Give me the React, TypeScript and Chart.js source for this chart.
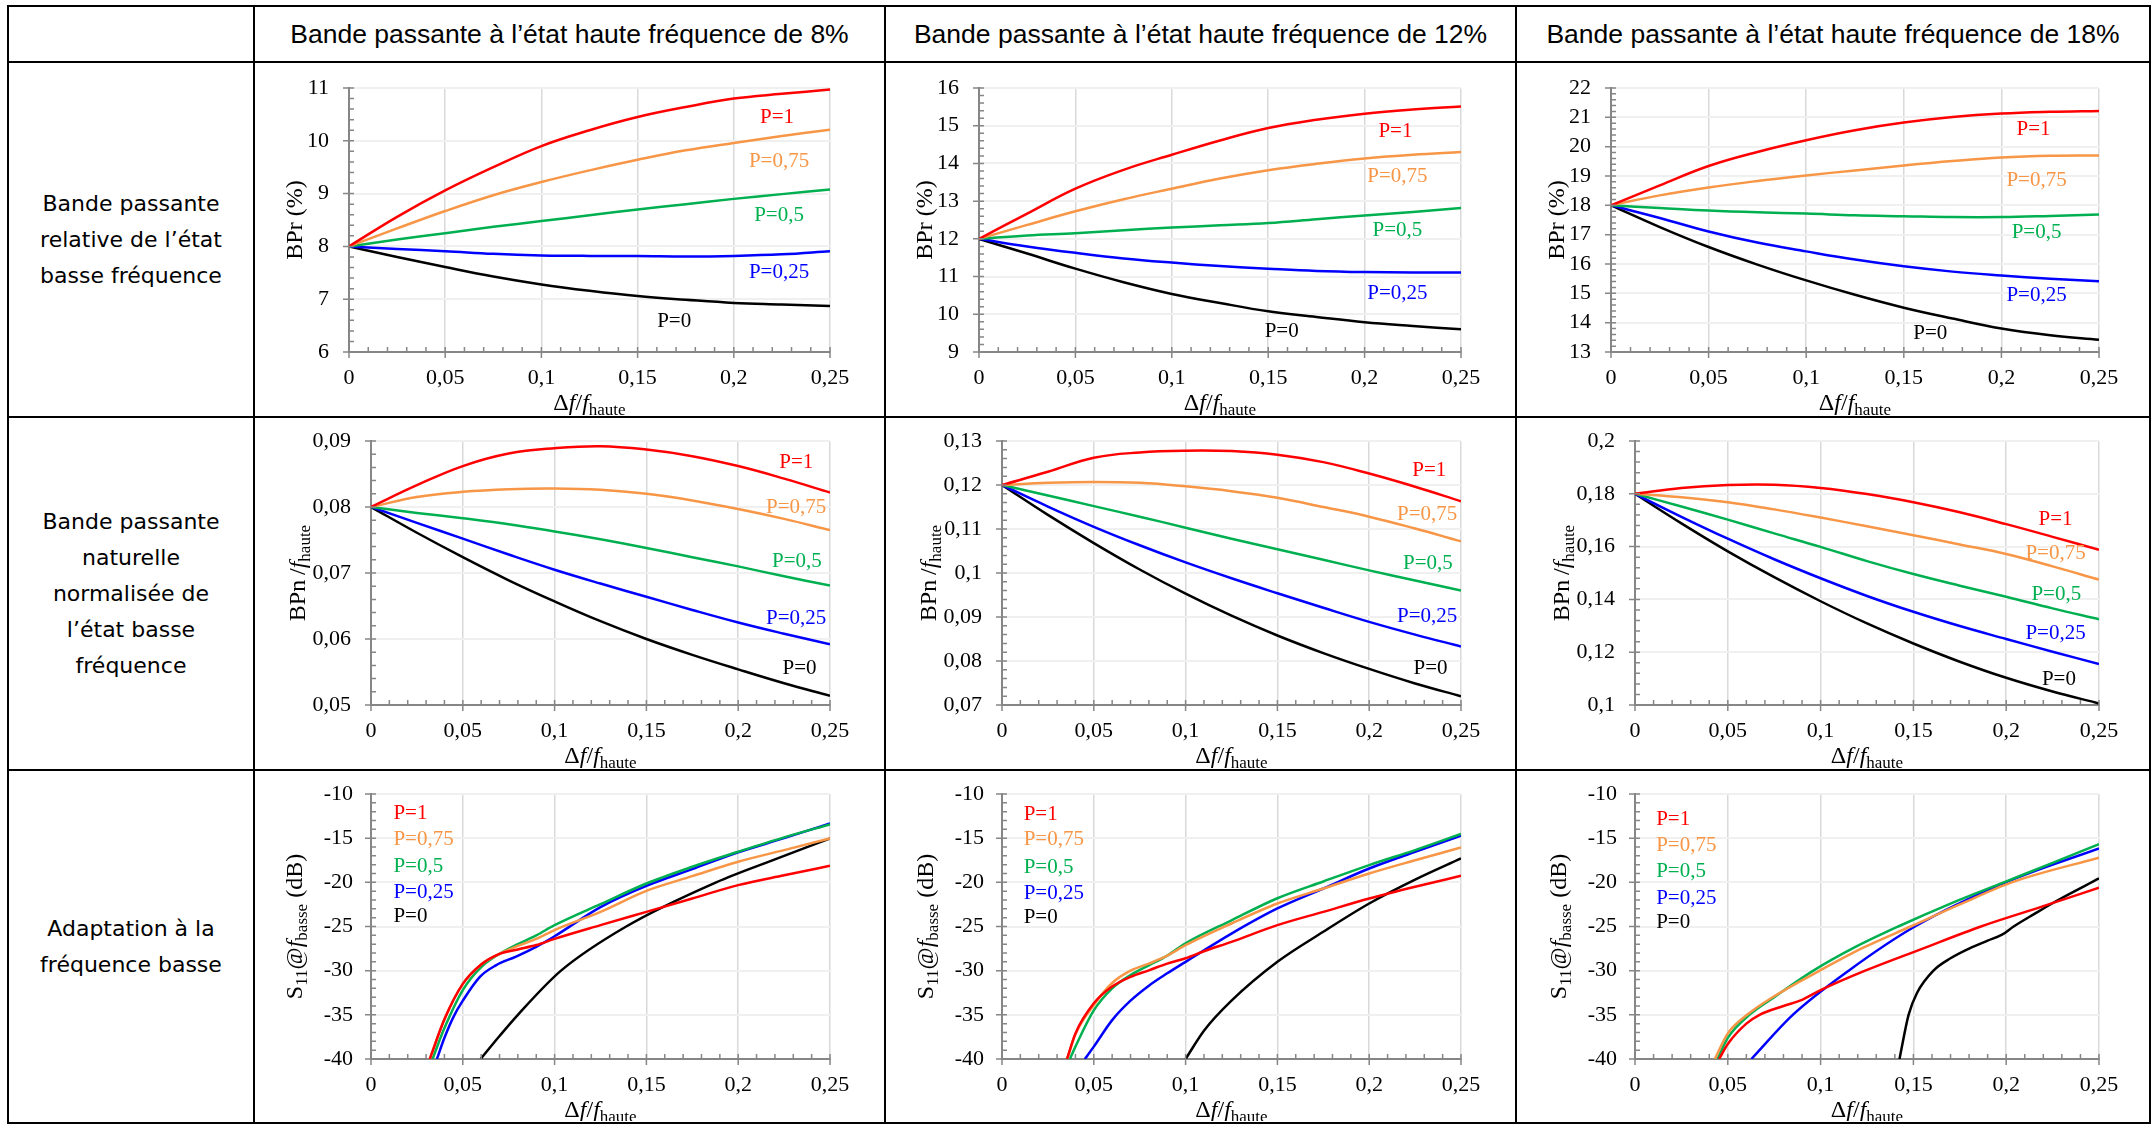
import React, { useEffect, useRef } from 'react';
import { Chart, registerables } from 'chart.js';

Chart.register(...registerables);
Chart.defaults.font.family = '"Liberation Serif", "Times New Roman", serif';
Chart.defaults.color = '#000000';

// ---------- shared axis data ----------
const X_GRID = [0, 0.025, 0.05, 0.075, 0.1, 0.125, 0.15, 0.175, 0.2, 0.225, 0.25];
const X_TICKS = [0, 0.05, 0.1, 0.15, 0.2, 0.25];
const X_TICK_LABELS = ['0', '0,05', '0,1', '0,15', '0,2', '0,25'];

const SERIES_NAMES = ['P=1', 'P=0,75', 'P=0,5', 'P=0,25', 'P=0'];
const SERIES_COLORS = ['#ff0000', '#f79646', '#00b050', '#0000ff', '#000000'];

const COL_HEADERS = [
  'Bande passante à l’état haute fréquence de 8%',
  'Bande passante à l’état haute fréquence de 12%',
  'Bande passante à l’état haute fréquence de 18%',
];
const ROW_HEADERS = [
  ['Bande passante', 'relative de l’état', 'basse fréquence'],
  ['Bande passante', 'naturelle', 'normalisée de', 'l’état basse', 'fréquence'],
  ['Adaptation à la', 'fréquence basse'],
];

// ---------- Row 1 : BPr (%) ----------
const BPR_Y_TICKS_8 = [6, 7, 8, 9, 10, 11];
const BPR_Y_TICKS_12 = [9, 10, 11, 12, 13, 14, 15, 16];
const BPR_Y_TICKS_18 = [13, 14, 15, 16, 17, 18, 19, 20, 21, 22];

const BPR8_P1 = [8, 8.56, 9.06, 9.5, 9.9, 10.2, 10.45, 10.64, 10.8, 10.89, 10.97];
const BPR8_P075 = [8, 8.34, 8.67, 8.97, 9.22, 9.44, 9.64, 9.82, 9.96, 10.09, 10.21];
const BPR8_P05 = [8, 8.13, 8.25, 8.37, 8.48, 8.59, 8.7, 8.8, 8.9, 8.99, 9.08];
const BPR8_P025 = [8, 7.95, 7.91, 7.86, 7.83, 7.82, 7.82, 7.81, 7.82, 7.85, 7.91];
const BPR8_P0 = [8, 7.8, 7.61, 7.43, 7.28, 7.16, 7.06, 6.99, 6.93, 6.9, 6.87];

const BPR12_P1 = [12, 12.67, 13.33, 13.83, 14.23, 14.61, 14.94, 15.16, 15.32, 15.43, 15.51];
const BPR12_P075 = [12, 12.37, 12.73, 13.05, 13.33, 13.6, 13.82, 13.99, 14.13, 14.23, 14.3];
const BPR12_P05 = [12, 12.09, 12.15, 12.23, 12.3, 12.36, 12.42, 12.52, 12.62, 12.71, 12.82];
const BPR12_P025 = [12, 11.8, 11.63, 11.48, 11.37, 11.28, 11.21, 11.15, 11.12, 11.11, 11.11];
const BPR12_P0 = [12, 11.61, 11.21, 10.85, 10.54, 10.3, 10.08, 9.93, 9.79, 9.69, 9.6];

const BPR18_P1 = [18, 18.68, 19.34, 19.82, 20.22, 20.56, 20.82, 21.01, 21.13, 21.19, 21.22];
const BPR18_P075 = [18, 18.34, 18.61, 18.83, 19.02, 19.19, 19.36, 19.51, 19.63, 19.69, 19.7];
const BPR18_P05 = [18, 17.91, 17.82, 17.76, 17.72, 17.66, 17.63, 17.6, 17.6, 17.64, 17.69];
const BPR18_P025 = [18, 17.57, 17.11, 16.73, 16.43, 16.15, 15.92, 15.74, 15.61, 15.5, 15.41];
const BPR18_P0 = [18, 17.26, 16.58, 15.98, 15.44, 14.95, 14.51, 14.14, 13.8, 13.57, 13.42];

// ---------- Row 2 : BPn / f_haute ----------
const BPN_Y_TICKS_8 = [0.05, 0.06, 0.07, 0.08, 0.09];
const BPN_Y_LABELS_8 = ['0,05', '0,06', '0,07', '0,08', '0,09'];
const BPN_Y_TICKS_12 = [0.07, 0.08, 0.09, 0.1, 0.11, 0.12, 0.13];
const BPN_Y_LABELS_12 = ['0,07', '0,08', '0,09', '0,1', '0,11', '0,12', '0,13'];
const BPN_Y_TICKS_18 = [0.1, 0.12, 0.14, 0.16, 0.18, 0.2];
const BPN_Y_LABELS_18 = ['0,1', '0,12', '0,14', '0,16', '0,18', '0,2'];

const BPN8_P1 = [0.08, 0.0833, 0.0862, 0.0881, 0.0889, 0.0892, 0.0887, 0.0877, 0.0862, 0.0843, 0.0822];
const BPN8_P075 = [0.08, 0.0815, 0.0823, 0.0827, 0.0828, 0.0826, 0.082, 0.081, 0.0797, 0.0782, 0.0765];
const BPN8_P05 = [0.08, 0.0791, 0.0783, 0.0774, 0.0763, 0.0751, 0.0738, 0.0724, 0.071, 0.0695, 0.0681];
const BPN8_P025 = [0.08, 0.0776, 0.0752, 0.0728, 0.0705, 0.0684, 0.0664, 0.0644, 0.0625, 0.0608, 0.0592];
const BPN8_P0 = [0.08, 0.0761, 0.0724, 0.0689, 0.0657, 0.0627, 0.06, 0.0576, 0.0554, 0.0533, 0.0514];

const BPN12_P1 = [0.12, 0.123, 0.1262, 0.1274, 0.1278, 0.1277, 0.1269, 0.1252, 0.1226, 0.1196, 0.1163];
const BPN12_P075 = [0.12, 0.1205, 0.1207, 0.1205, 0.1197, 0.1186, 0.1171, 0.115, 0.1128, 0.1101, 0.1072];
const BPN12_P05 = [0.12, 0.1176, 0.1152, 0.1128, 0.1103, 0.1078, 0.1054, 0.103, 0.1006, 0.0983, 0.096];
const BPN12_P025 = [0.12, 0.1151, 0.1105, 0.1063, 0.1024, 0.0988, 0.0954, 0.0921, 0.0889, 0.086, 0.0833];
const BPN12_P0 = [0.12, 0.1132, 0.1068, 0.1008, 0.0953, 0.0903, 0.0858, 0.0818, 0.0782, 0.0749, 0.072];

const BPN18_P1 = [0.18, 0.1822, 0.1833, 0.1834, 0.1822, 0.1799, 0.1768, 0.173, 0.1685, 0.1637, 0.1588];
const BPN18_P075 = [0.18, 0.1787, 0.1768, 0.1741, 0.171, 0.1677, 0.1643, 0.1608, 0.1572, 0.1525, 0.1475];
const BPN18_P05 = [0.18, 0.1752, 0.1702, 0.165, 0.1599, 0.1545, 0.1496, 0.1452, 0.141, 0.1366, 0.1325];
const BPN18_P025 = [0.18, 0.1713, 0.163, 0.1552, 0.148, 0.1413, 0.1353, 0.1299, 0.125, 0.1202, 0.1155];
const BPN18_P0 = [0.18, 0.1688, 0.1582, 0.1484, 0.1393, 0.1309, 0.1233, 0.1164, 0.1103, 0.1051, 0.1006];

// ---------- Row 3 : S11 @ f_basse (dB) ----------
const S11_Y_TICKS = [-40, -35, -30, -25, -20, -15, -10];
const S11_Y_LABELS = ['-40', '-35', '-30', '-25', '-20', '-15', '-10'];

const S11_8_P1_X = [0.032, 0.04, 0.05, 0.06, 0.07, 0.08, 0.09, 0.1, 0.125, 0.15, 0.175, 0.2, 0.225, 0.25];
const S11_8_P1_Y = [-40, -35.5, -31.5, -29.3, -28.1, -27.6, -27.1, -26.4, -24.85, -23.34, -21.83, -20.32, -19.2, -18.13];
const S11_8_P075_X = [0.032, 0.04, 0.05, 0.06, 0.07, 0.08, 0.09, 0.1, 0.125, 0.15, 0.175, 0.2, 0.225, 0.25];
const S11_8_P075_Y = [-40, -35.5, -31.5, -29.3, -28.1, -27.2, -26.4, -25.4, -23.34, -20.96, -19.3, -17.67, -16.35, -15.03];
const S11_8_P05_X = [0.0335, 0.04, 0.05, 0.06, 0.07, 0.08, 0.09, 0.1, 0.125, 0.15, 0.175, 0.2, 0.225, 0.25];
const S11_8_P05_Y = [-40, -36.5, -32.2, -29.6, -28.1, -27.0, -26.0, -24.85, -22.47, -20.13, -18.24, -16.54, -14.91, -13.44];
const S11_8_P025_X = [0.0359, 0.04, 0.045, 0.05, 0.0593, 0.068, 0.079, 0.09, 0.1, 0.125, 0.15, 0.175, 0.2, 0.225, 0.25];
const S11_8_P025_Y = [-40, -37.6, -35.2, -33.4, -30.7, -29.4, -28.4, -27.3, -26.1, -22.8, -20.4, -18.5, -16.6, -15.0, -13.33];
const S11_8_P0_X = [0.0597, 0.07, 0.08, 0.1035, 0.139, 0.188, 0.22, 0.25];
const S11_8_P0_Y = [-40, -37.4, -35, -30, -25, -20, -17.4, -15.03];

const S11_12_P1_X = [0.0354, 0.04, 0.05, 0.06, 0.07, 0.08, 0.09, 0.1, 0.11, 0.125, 0.15, 0.175, 0.2, 0.225, 0.25];
const S11_12_P1_Y = [-40, -37.1, -33.7, -31.8, -30.7, -29.96, -29.2, -28.6, -27.8, -26.74, -24.85, -23.34, -21.83, -20.5, -19.26];
const S11_12_P075_X = [0.0355, 0.04, 0.05, 0.06, 0.07, 0.08, 0.09, 0.1, 0.125, 0.15, 0.175, 0.2, 0.225, 0.25];
const S11_12_P075_Y = [-40, -37.2, -33.9, -31.4, -30.0, -29.2, -28.3, -27.12, -24.66, -22.4, -20.7, -19.0, -17.5, -16.05];
const S11_12_P05_X = [0.037, 0.04, 0.05, 0.06, 0.07, 0.08, 0.09, 0.1, 0.125, 0.15, 0.175, 0.2, 0.225, 0.25];
const S11_12_P05_Y = [-40, -38.6, -34.5, -32.0, -30.5, -29.4, -28.3, -26.9, -24.3, -21.8, -19.9, -18.05, -16.35, -14.53];
const S11_12_P025_X = [0.0451, 0.05, 0.06, 0.07, 0.08, 0.09, 0.1, 0.11, 0.125, 0.15, 0.175, 0.2, 0.225, 0.25];
const S11_12_P025_Y = [-40, -38.6, -35.6, -33.4, -31.7, -30.3, -29.0, -27.7, -25.8, -22.96, -20.7, -18.43, -16.54, -14.72];
const S11_12_P0_X = [0.1, 0.11, 0.125, 0.15, 0.175, 0.2, 0.225, 0.25];
const S11_12_P0_Y = [-40, -36.8, -33.4, -29.0, -25.6, -22.4, -19.7, -17.3];

const S11_18_P1_X = [0.0453, 0.05, 0.06, 0.0671, 0.08, 0.09, 0.1, 0.124, 0.155, 0.1864, 0.22, 0.25];
const S11_18_P1_Y = [-40, -38.3, -36.0, -35, -34.0, -33.3, -32.2, -30, -27.5, -25, -22.7, -20.6];
const S11_18_P075_X = [0.043, 0.05, 0.0604, 0.075, 0.0995, 0.123, 0.1485, 0.175, 0.203, 0.25];
const S11_18_P075_Y = [-40, -37.1, -35, -32.9, -30, -27.4, -25, -22.5, -20, -17.2];
const S11_18_P05_X = [0.0445, 0.05, 0.0616, 0.075, 0.0961, 0.118, 0.1418, 0.17, 0.1987, 0.225, 0.25];
const S11_18_P05_Y = [-40, -37.6, -35, -33, -30, -27.4, -25, -22.4, -20, -17.8, -15.67];
const S11_18_P025_X = [0.0627, 0.085, 0.1151, 0.1508, 0.1998, 0.25];
const S11_18_P025_Y = [-40, -35, -30, -25, -20, -16.16];
const S11_18_P0_X = [0.1425, 0.1474, 0.152, 0.1608, 0.17, 0.18, 0.19, 0.198, 0.204, 0.215, 0.228, 0.25];
const S11_18_P0_Y = [-40, -35, -32.5, -30, -28.6, -27.5, -26.6, -25.9, -25, -23.6, -22, -19.56];

// ---------- layout (positions, not data) ----------
const V_LINES = [8, 254, 885, 1516, 2150];
const H_LINES = [6, 62, 417, 770, 1123];
const PLOT_ROWS = [
  { top: 88, bottom: 352 },
  { top: 441, bottom: 705 },
  { top: 794, bottom: 1059 },
];
const PLOT_COLS = [
  [{ l: 349, r: 830 }, { l: 979, r: 1461 }, { l: 1611, r: 2099 }],
  [{ l: 371, r: 830 }, { l: 1002, r: 1461 }, { l: 1635, r: 2099 }],
  [{ l: 371, r: 830 }, { l: 1002, r: 1461 }, { l: 1635, r: 2099 }],
];
const Y_TITLE_OFFSET = [55, 74, 77];

type Seg = { t: string; it?: boolean; sub?: boolean };
const T_X: Seg[] = [{ t: 'Δ' }, { t: 'f', it: true }, { t: '/' }, { t: 'f', it: true }, { t: 'haute', sub: true }];
const T_BPR: Seg[] = [{ t: 'BPr (%)' }];
const T_BPN: Seg[] = [{ t: 'BPn\u2009/' }, { t: 'f', it: true }, { t: 'haute', sub: true }];
const T_S11: Seg[] = [{ t: 'S' }, { t: '11', sub: true }, { t: '@' }, { t: 'f', it: true }, { t: 'basse', sub: true }, { t: ' (dB)' }];

type Spec = {
  series: { x: number[]; y: number[] }[];
  yTicks: number[];
  yLabels: string[];
  yMinor: number;
  yTitle: Seg[];
  labelX: number[];
  labelY: number[];
  labelAlign: 'center' | 'left';
};

const g = (ys: number[]) => ({ x: X_GRID, y: ys });
const str = (a: number[]) => a.map((v) => String(v));

const SPECS: Spec[][] = [
  [
    { series: [g(BPR8_P1), g(BPR8_P075), g(BPR8_P05), g(BPR8_P025), g(BPR8_P0)], yTicks: BPR_Y_TICKS_8, yLabels: str(BPR_Y_TICKS_8), yMinor: 0.2, yTitle: T_BPR,
      labelX: [0.2225, 0.2235, 0.2235, 0.2235, 0.169], labelY: [10.45, 9.61, 8.58, 7.5, 6.57], labelAlign: 'center' },
    { series: [g(BPR12_P1), g(BPR12_P075), g(BPR12_P05), g(BPR12_P025), g(BPR12_P0)], yTicks: BPR_Y_TICKS_12, yLabels: str(BPR_Y_TICKS_12), yMinor: 0.2, yTitle: T_BPR,
      labelX: [0.216, 0.217, 0.217, 0.217, 0.157], labelY: [14.86, 13.66, 12.23, 10.56, 9.55], labelAlign: 'center' },
    { series: [g(BPR18_P1), g(BPR18_P075), g(BPR18_P05), g(BPR18_P025), g(BPR18_P0)], yTicks: BPR_Y_TICKS_18, yLabels: str(BPR_Y_TICKS_18), yMinor: 0.2, yTitle: T_BPR,
      labelX: [0.2165, 0.218, 0.218, 0.218, 0.1636], labelY: [20.59, 18.85, 17.07, 14.93, 13.63], labelAlign: 'center' },
  ],
  [
    { series: [g(BPN8_P1), g(BPN8_P075), g(BPN8_P05), g(BPN8_P025), g(BPN8_P0)], yTicks: BPN_Y_TICKS_8, yLabels: BPN_Y_LABELS_8, yMinor: 0.002, yTitle: T_BPN,
      labelX: [0.2316, 0.2316, 0.232, 0.2316, 0.2334], labelY: [0.0868, 0.08, 0.0717, 0.0631, 0.0556], labelAlign: 'center' },
    { series: [g(BPN12_P1), g(BPN12_P075), g(BPN12_P05), g(BPN12_P025), g(BPN12_P0)], yTicks: BPN_Y_TICKS_12, yLabels: BPN_Y_LABELS_12, yMinor: 0.002, yTitle: T_BPN,
      labelX: [0.2327, 0.2316, 0.232, 0.2316, 0.2334], labelY: [0.1233, 0.1133, 0.1022, 0.0901, 0.0783], labelAlign: 'center' },
    { series: [g(BPN18_P1), g(BPN18_P075), g(BPN18_P05), g(BPN18_P025), g(BPN18_P0)], yTicks: BPN_Y_TICKS_18, yLabels: BPN_Y_LABELS_18, yMinor: 0.004, yTitle: T_BPN,
      labelX: [0.2266, 0.2266, 0.227, 0.2266, 0.2284], labelY: [0.1704, 0.1574, 0.142, 0.1269, 0.1098], labelAlign: 'center' },
  ],
  [
    { series: [{ x: S11_8_P1_X, y: S11_8_P1_Y }, { x: S11_8_P075_X, y: S11_8_P075_Y }, { x: S11_8_P05_X, y: S11_8_P05_Y }, { x: S11_8_P025_X, y: S11_8_P025_Y }, { x: S11_8_P0_X, y: S11_8_P0_Y }],
      yTicks: S11_Y_TICKS, yLabels: S11_Y_LABELS, yMinor: 1, yTitle: T_S11,
      labelX: [0.0122, 0.0122, 0.0122, 0.0122, 0.0122], labelY: [-12.19, -15.14, -18.24, -21.15, -23.9], labelAlign: 'left' },
    { series: [{ x: S11_12_P1_X, y: S11_12_P1_Y }, { x: S11_12_P075_X, y: S11_12_P075_Y }, { x: S11_12_P05_X, y: S11_12_P05_Y }, { x: S11_12_P025_X, y: S11_12_P025_Y }, { x: S11_12_P0_X, y: S11_12_P0_Y }],
      yTicks: S11_Y_TICKS, yLabels: S11_Y_LABELS, yMinor: 1, yTitle: T_S11,
      labelX: [0.0118, 0.0118, 0.0118, 0.0118, 0.0118], labelY: [-12.3, -15.2, -18.3, -21.26, -24.0], labelAlign: 'left' },
    { series: [{ x: S11_18_P1_X, y: S11_18_P1_Y }, { x: S11_18_P075_X, y: S11_18_P075_Y }, { x: S11_18_P05_X, y: S11_18_P05_Y }, { x: S11_18_P025_X, y: S11_18_P025_Y }, { x: S11_18_P0_X, y: S11_18_P0_Y }],
      yTicks: S11_Y_TICKS, yLabels: S11_Y_LABELS, yMinor: 1, yTitle: T_S11,
      labelX: [0.0114, 0.0114, 0.0114, 0.0114, 0.0114], labelY: [-12.87, -15.78, -18.8, -21.83, -24.6], labelAlign: 'left' },
  ],
];

const SERIF = '"Liberation Serif", "Times New Roman", serif';
const TITLE_SIZE = 24;
const SUB_SIZE = 17;

function drawRich(ctx: CanvasRenderingContext2D, segs: Seg[], cx: number, cy: number, rotate: boolean) {
  const fontOf = (s: Seg) => `${s.it ? 'italic ' : ''}${s.sub ? SUB_SIZE : TITLE_SIZE}px ${SERIF}`;
  let w = 0;
  for (const s of segs) {
    ctx.font = fontOf(s);
    w += ctx.measureText(s.t).width;
  }
  ctx.save();
  ctx.translate(cx, cy);
  if (rotate) ctx.rotate(-Math.PI / 2);
  ctx.textAlign = 'left';
  ctx.textBaseline = 'alphabetic';
  ctx.fillStyle = '#000';
  let x = -w / 2;
  for (const s of segs) {
    ctx.font = fontOf(s);
    ctx.fillText(s.t, x, s.sub ? 13 : 8);
    x += ctx.measureText(s.t).width;
  }
  ctx.restore();
}

const decorPlugin = {
  id: 'decor',
  afterDatasetsDraw(chart: any, _args: any, o: any) {
    const { ctx, chartArea: a } = chart;
    const xs = chart.scales.x;
    const ys = chart.scales.y;
    ctx.save();
    ctx.strokeStyle = '#868686';
    ctx.lineWidth = 1.5;
    ctx.beginPath();
    const nx = Math.round((o.xMax - o.xMin) / o.xMinor);
    for (let i = 0; i <= nx; i++) {
      const v = o.xMin + i * o.xMinor;
      const r = v / o.xMajor;
      const major = Math.abs(r - Math.round(r)) < 1e-6;
      const px = xs.getPixelForValue(v);
      ctx.moveTo(px, a.bottom - 5);
      ctx.lineTo(px, a.bottom + (major ? 6 : 0));
    }
    const ny = Math.round((o.yMax - o.yMin) / o.yMinor);
    for (let i = 0; i <= ny; i++) {
      const v = o.yMin + i * o.yMinor;
      const major = o.yMajors.some((m: number) => Math.abs(m - v) < o.yMinor * 1e-3);
      const py = ys.getPixelForValue(v);
      ctx.moveTo(a.left + 5, py);
      ctx.lineTo(a.left - (major ? 6 : 0), py);
    }
    ctx.stroke();

    // series labels
    ctx.font = `21px ${SERIF}`;
    ctx.textBaseline = 'middle';
    ctx.textAlign = o.labelAlign;
    for (let i = 0; i < o.labelTexts.length; i++) {
      ctx.fillStyle = o.labelColors[i];
      ctx.fillText(o.labelTexts[i], xs.getPixelForValue(o.labelX[i]), ys.getPixelForValue(o.labelY[i]));
    }

    // axis titles
    drawRich(ctx, o.xTitle, (a.left + a.right) / 2, a.bottom + 50, false);
    drawRich(ctx, o.yTitle, a.left - o.yTitleOffset, (a.top + a.bottom) / 2, true);
    ctx.restore();
  },
};

function ChartCell({ row, col }: { row: number; col: number }) {
  const ref = useRef<HTMLCanvasElement>(null);
  const spec = SPECS[row][col];
  const cx = V_LINES[col + 1] + 2;
  const cw = V_LINES[col + 2] - 2 - cx;
  const cy = H_LINES[row + 1] + 2;
  const ch = H_LINES[row + 2] - 2 - cy;
  const pr = PLOT_ROWS[row];
  const pc = PLOT_COLS[row][col];

  useEffect(() => {
    const yw = pc.l - cx;
    const xh = cy + ch - pr.bottom;
    const padTop = pr.top - cy;
    const padRight = cx + cw - pc.r;
    const yMin = spec.yTicks[0];
    const yMax = spec.yTicks[spec.yTicks.length - 1];
    const smoothOnly = row < 2;
    const chart = new Chart(ref.current as HTMLCanvasElement, {
      type: 'line',
      data: {
        datasets: spec.series.map((s, i) => ({
          label: SERIES_NAMES[i],
          data: s.x.map((x, j) => ({ x, y: s.y[j] })),
          borderColor: SERIES_COLORS[i],
          backgroundColor: SERIES_COLORS[i],
          borderWidth: 2.5,
          pointRadius: 0,
          fill: false,
          tension: 0.4,
          cubicInterpolationMode: smoothOnly ? 'default' : 'monotone',
        })),
      },
      options: {
        responsive: false,
        animation: false,
        devicePixelRatio: 1,
        layout: { padding: { left: 0, top: padTop, right: padRight, bottom: 0 } },
        plugins: {
          legend: { display: false },
          tooltip: { enabled: false },
          decor: {
            xMin: 0, xMax: 0.25, xMinor: 0.01, xMajor: 0.05,
            yMin, yMax, yMinor: spec.yMinor, yMajors: spec.yTicks,
            labelTexts: SERIES_NAMES, labelColors: SERIES_COLORS,
            labelX: spec.labelX, labelY: spec.labelY, labelAlign: spec.labelAlign,
            xTitle: T_X, yTitle: spec.yTitle, yTitleOffset: Y_TITLE_OFFSET[row],
          },
        } as any,
        scales: {
          x: {
            type: 'linear',
            min: 0,
            max: 0.25,
            afterBuildTicks: (s: any) => { s.ticks = X_TICKS.map((v) => ({ value: v })); },
            afterFit: (s: any) => { s.height = xh; s.paddingLeft = 0; s.paddingRight = 0; },
            ticks: { callback: (_v: any, i: number) => X_TICK_LABELS[i], padding: 13, font: { size: 22 }, color: '#000', maxRotation: 0, autoSkip: false },
            grid: { color: '#d9d9d9', lineWidth: 1.5, drawTicks: false },
            border: { display: true, color: '#868686', width: 2 },
          },
          y: {
            type: 'linear',
            min: yMin,
            max: yMax,
            afterBuildTicks: (s: any) => { s.ticks = spec.yTicks.map((v) => ({ value: v })); },
            afterFit: (s: any) => { s.width = yw; s.paddingTop = 0; s.paddingBottom = 0; },
            ticks: { callback: (_v: any, i: number) => spec.yLabels[i], padding: row === 2 ? 18 : 20, font: { size: 22 }, color: '#000', autoSkip: false },
            grid: { color: '#f0f0f0', lineWidth: 2, drawTicks: false },
            border: { display: true, color: '#868686', width: 2 },
          },
        },
      } as any,
      plugins: [decorPlugin as any],
    });
    return () => chart.destroy();
  }, []);

  return (
    <canvas
      ref={ref}
      width={cw}
      height={ch}
      style={{ position: 'absolute', left: cx, top: cy, width: cw, height: ch }}
    />
  );
}

export default function App() {
  const lineW = 2;
  const top = H_LINES[0];
  const bottom = H_LINES[H_LINES.length - 1];
  const left = V_LINES[0];
  const right = V_LINES[V_LINES.length - 1];
  return (
    <div style={{ position: 'absolute', left: 0, top: 0, width: 2156, height: 1126, background: '#fff', overflow: 'hidden' }}>
      {COL_HEADERS.map((t, c) => (
        <div
          key={'ch' + c}
          style={{
            position: 'absolute', left: V_LINES[c + 1], top: H_LINES[0], width: V_LINES[c + 2] - V_LINES[c + 1], height: H_LINES[1] - H_LINES[0],
            display: 'flex', alignItems: 'center', justifyContent: 'center',
            fontFamily: '"Liberation Sans", Arial, sans-serif', fontSize: 26.5, color: '#000', whiteSpace: 'nowrap',
          }}
        >
          {t}
        </div>
      ))}
      {ROW_HEADERS.map((lines, r) => (
        <div
          key={'rh' + r}
          style={{
            position: 'absolute', left: V_LINES[0], top: H_LINES[r + 1], width: V_LINES[1] - V_LINES[0], height: H_LINES[r + 2] - H_LINES[r + 1],
            display: 'flex', flexDirection: 'column', alignItems: 'center', justifyContent: 'center',
            fontFamily: '"DejaVu Sans", Verdana, sans-serif', fontSize: 22, lineHeight: '36px', color: '#000', textAlign: 'center',
          }}
        >
          {lines.map((l, i) => (
            <div key={i}>{l}</div>
          ))}
        </div>
      ))}
      {[0, 1, 2].map((r) => [0, 1, 2].map((c) => <ChartCell key={r + '-' + c} row={r} col={c} />))}
      {V_LINES.map((x, i) => (
        <div key={'v' + i} style={{ position: 'absolute', left: x - 1, top: top - 1, width: lineW, height: bottom - top + 2, background: '#000' }} />
      ))}
      {H_LINES.map((y, i) => (
        <div key={'h' + i} style={{ position: 'absolute', left: left - 1, top: y - 1, width: right - left + 2, height: lineW, background: '#000' }} />
      ))}
    </div>
  );
}
